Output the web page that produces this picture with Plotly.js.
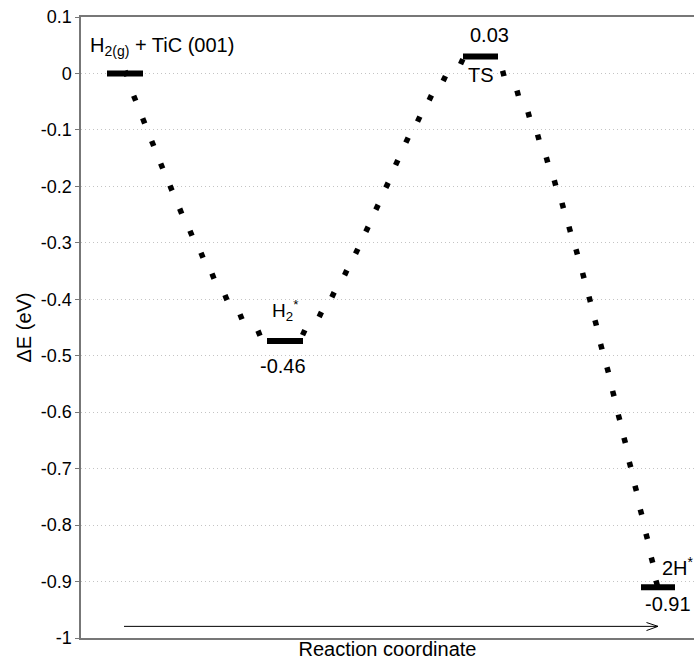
<!DOCTYPE html>
<html>
<head>
<meta charset="utf-8">
<script src="https://cdn.plot.ly/plotly-3.0.1.min.js"></script>
<style>html,body{margin:0;padding:0;background:#fff;}#chart{width:694px;height:662px;}</style>
</head>
<body>
<div id="chart"></div>
<script>
// Energy levels (reaction coordinate in arbitrary units, energy in eV)
const levelNames = ["H2(g) + TiC (001)", "H2*", "TS", "2H*"];
const levelStart = [107, 267, 463, 641];
const levelEnd   = [143, 303, 498, 675];
const levelE     = [0.000, -0.474, 0.030, -0.910];

// Dotted connecting paths
const seg1X = [126, 134.7, 143.7, 152.7, 161.7, 171, 180.7, 191, 202, 213, 226, 241, 259];
const seg1E = [0.000, -0.044, -0.084, -0.124, -0.164, -0.203, -0.244, -0.283, -0.322, -0.359, -0.397, -0.431, -0.460];
const seg2X = [303.7, 320.3, 333, 345.7, 356.7, 367, 377, 387, 396.7, 407, 418.7, 430.3, 444.3, 461.7];
const seg2E = [-0.459, -0.427, -0.392, -0.353, -0.315, -0.276, -0.237, -0.198, -0.158, -0.118, -0.081, -0.043, -0.009, 0.021];
const seg3X = [503.3, 517.7, 528.7, 538.3, 547, 555, 562.7, 569.7, 576.7, 583.3, 589.7, 595.7, 601.3, 607.7, 613.3, 619, 624.7, 630, 635.7, 641, 646.7, 652, 656.7];
const seg3E = [0.000, -0.035, -0.073, -0.113, -0.153, -0.194, -0.234, -0.276, -0.316, -0.358, -0.400, -0.442, -0.484, -0.525, -0.567, -0.609, -0.650, -0.693, -0.735, -0.777, -0.820, -0.862, -0.903];

// Y axis ticks
const yTickVals = [0.1, 0, -0.1, -0.2, -0.3, -0.4, -0.5, -0.6, -0.7, -0.8, -0.9, -1];
const yTickText = ["0.1", "0", "-0.1", "-0.2", "-0.3", "-0.4", "-0.5", "-0.6", "-0.7", "-0.8", "-0.9", "-1"];

// Reaction-coordinate arrow
const arrowX = [124, 658];
const arrowE = -0.9794;

const FONT = "Liberation Sans, Arial, sans-serif";
const traces = [];
const segs = [[seg1X, seg1E, 68], [seg2X, seg2E, -65], [seg3X, seg3E, 75]];
segs.forEach(s => {
  traces.push({
    x: s[0], y: s[1], type: "scatter", mode: "markers",
    marker: {symbol: "square", size: 5.5, color: "#000", angle: s[2], line: {width: 0}},
    hoverinfo: "skip", showlegend: false
  });
});
for (let i = 0; i < levelE.length; i++) {
  traces.push({
    x: [levelStart[i], levelEnd[i]], y: [levelE[i], levelE[i]],
    type: "scatter", mode: "lines", name: levelNames[i],
    line: {color: "#000", width: 6}, showlegend: false
  });
}

const lblFont = {family: FONT, size: 20, color: "#000"};
const annotations = [
  {x: 88, y: 0.047, xref: "x", yref: "y", xanchor: "left", yanchor: "middle",
   text: "H<sub>2(g)</sub> + TiC (001)", showarrow: false, font: lblFont},
  {x: 489, y: 0.068, xref: "x", yref: "y", xanchor: "center", yanchor: "middle",
   text: "0.03", showarrow: false, font: lblFont},
  {x: 481, y: -0.002, xref: "x", yref: "y", xanchor: "center", yanchor: "middle",
   text: "TS", showarrow: false, font: lblFont},
  {x: 270, y: -0.42, xref: "x", yref: "y", xanchor: "left", yanchor: "middle",
   text: "H<sub>2</sub><sup>*</sup>", showarrow: false, font: {family: FONT, size: 19, color: "#000"}},
  {x: 282.7, y: -0.519, xref: "x", yref: "y", xanchor: "center", yanchor: "middle",
   text: "-0.46", showarrow: false, font: lblFont},
  {x: 660, y: -0.874, xref: "x", yref: "y", xanchor: "left", yanchor: "middle",
   text: "2H<sup>*</sup>", showarrow: false, font: lblFont},
  {x: 668.3, y: -0.940, xref: "x", yref: "y", xanchor: "center", yanchor: "middle",
   text: "-0.91", showarrow: false, font: lblFont}
];

const shapes = [
  {type: "path", xref: "x", yref: "y",
   path: `M ${arrowX[0]},${arrowE} L ${arrowX[1]},${arrowE} M ${arrowX[1]-11.5},${arrowE+0.0068} L ${arrowX[1]},${arrowE} L ${arrowX[1]-11.5},${arrowE-0.0074}`,
   line: {color: "#000", width: 1}}
];

const layout = {
  width: 694, height: 662,
  margin: {l: 81, r: 0, t: 17, b: 24, pad: 0},
  paper_bgcolor: "#fff", plot_bgcolor: "#fff",
  font: {family: FONT, size: 18, color: "#000"},
  showlegend: false,
  xaxis: {
    range: [81, 694], showticklabels: false, ticks: "", showgrid: false, zeroline: false,
    showline: true, mirror: true, linecolor: "#777", linewidth: 1.6,
    title: {text: "Reaction coordinate", font: {family: FONT, size: 20, color: "#000"}, standoff: 3},
    automargin: false
  },
  yaxis: {
    range: [-1, 0.1], tickvals: yTickVals, ticktext: yTickText,
    ticks: "outside", ticklen: 4, tickcolor: "#777", tickwidth: 1,
    showgrid: true, gridcolor: "#c4c4c4", griddash: "1px,3px", gridwidth: 1,
    zeroline: false, showline: true, linecolor: "#777", linewidth: 1.6,
    tickfont: {family: FONT, size: 18, color: "#000"},
    title: {text: "ΔE (eV)", font: {family: FONT, size: 20, color: "#000"}, standoff: 4},
    automargin: false
  },
  annotations: annotations,
  shapes: shapes
};

Plotly.newPlot("chart", traces, layout, {displayModeBar: false, staticPlot: true});
</script>
</body>
</html>
